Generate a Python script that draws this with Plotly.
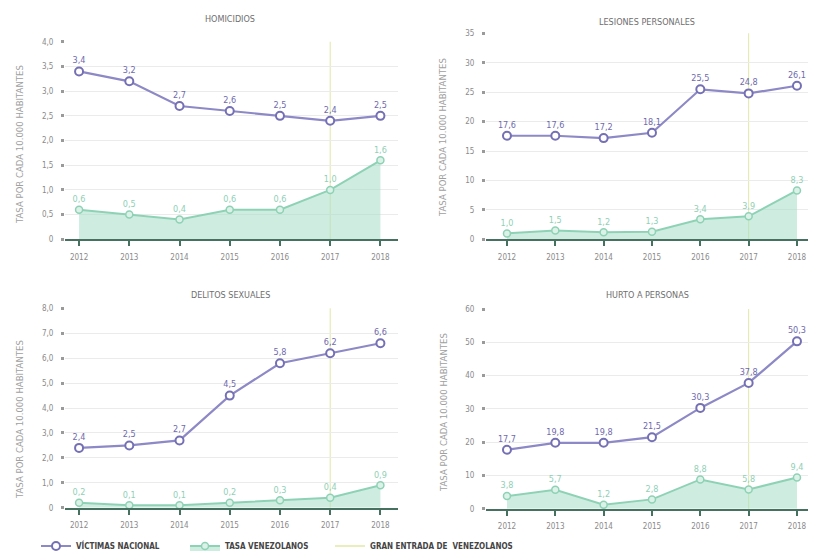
import plotly.graph_objects as go

years = ["2012", "2013", "2014", "2015", "2016", "2017", "2018"]
entrada_year = "2017"

titles = ["HOMICIDIOS", "LESIONES PERSONALES", "DELITOS SEXUALES", "HURTO A PERSONAS"]

hom_nac = [3.4, 3.2, 2.7, 2.6, 2.5, 2.4, 2.5]
hom_ven = [0.6, 0.5, 0.4, 0.6, 0.6, 1.0, 1.6]
les_nac = [17.6, 17.6, 17.2, 18.1, 25.5, 24.8, 26.1]
les_ven = [1.0, 1.5, 1.2, 1.3, 3.4, 3.9, 8.3]
del_nac = [2.4, 2.5, 2.7, 4.5, 5.8, 6.2, 6.6]
del_ven = [0.2, 0.1, 0.1, 0.2, 0.3, 0.4, 0.9]
hur_nac = [17.7, 19.8, 19.8, 21.5, 30.3, 37.8, 50.3]
hur_ven = [3.8, 5.7, 1.2, 2.8, 8.8, 5.8, 9.4]

hom_ticks = [0, 0.5, 1.0, 1.5, 2.0, 2.5, 3.0, 3.5, 4.0]
hom_ticktext = ["0", "0,5", "1,0", "1,5", "2,0", "2,5", "3,0", "3,5", "4,0"]
les_ticks = [0, 5, 10, 15, 20, 25, 30, 35]
les_ticktext = ["0", "5", "10", "15", "20", "25", "30", "35"]
del_ticks = [0, 1, 2, 3, 4, 5, 6, 7, 8]
del_ticktext = ["0", "1,0", "2,0", "3,0", "4,0", "5,0", "6,0", "7,0", "8,0"]
hur_ticks = [0, 10, 20, 30, 40, 50, 60]
hur_ticktext = ["0", "10", "20", "30", "40", "50", "60"]

y_title = "TASA POR CADA 10.000 HABITANTES"
legend_names = ["VÍCTIMAS NACIONAL", "TASA VENEZOLANOS", "GRAN ENTRADA DE  VENEZOLANOS"]

NAC_LINE = "#8d89c6"
NAC_MARK = "#7570b4"
NAC_TEXT = "#6f6aae"
VEN_LINE = "#8ed2b6"
VEN_FILL = "rgba(165,222,199,0.55)"
VEN_TEXT = "#8fd0b6"
AXIS = "#46705f"
GRID = "#ebebeb"
GRAY = "#8a8a8a"
VLINE = "#e3e7a6"
FONT = "Liberation Sans Narrow, DejaVu Sans Condensed, Arial Narrow, sans-serif"

# page body adds an 8px margin; figure is sized to fit inside the 816x559 window
OFF = 8
W, H = 816 - 2 * OFF, 559 - 2 * OFF


def px(x):
    return (x - OFF) / W


def py(y):
    return 1 - (y - OFF) / H


def fmt(v):
    return f"{v:.1f}".replace(".", ",")


panels = [
    dict(nac=hom_nac, ven=hom_ven, ticks=hom_ticks, tt=hom_ticktext,
         xd=[65, 398], yd=[239.3, 41.7], xr=[-0.28, 6.35]),
    dict(nac=les_nac, ven=les_ven, ticks=les_ticks, tt=les_ticktext,
         xd=[486, 808], yd=[239.3, 33.3], xr=[-0.434, 6.228]),
    dict(nac=del_nac, ven=del_ven, ticks=del_ticks, tt=del_ticktext,
         xd=[65, 398], yd=[507.7, 308.3], xr=[-0.28, 6.35]),
    dict(nac=hur_nac, ven=hur_ven, ticks=hur_ticks, tt=hur_ticktext,
         xd=[486, 808], yd=[508.7, 309.0], xr=[-0.434, 6.228]),
]
title_pos = [(230, 19), (647, 22), (230, 295), (647, 295)]
ytitle_pos = [(19, 145), (443, 137), (19, 420), (443, 412)]
legend_x = [36, 185, 330]
legend_y = 546

fig = go.Figure()
layout = dict(
    width=W, height=H,
    margin=dict(l=0, r=0, t=0, b=0, autoexpand=False),
    paper_bgcolor="white", plot_bgcolor="white",
    font=dict(family=FONT, color=GRAY, size=9),
    showlegend=True,
    shapes=[], annotations=[],
)

for i, p in enumerate(panels):
    n = "" if i == 0 else str(i + 1)
    xa, ya = "x" + n, "y" + n
    fig.add_trace(go.Scatter(
        x=years, y=p["ven"], xaxis=xa, yaxis=ya, mode="lines+markers+text",
        name=legend_names[1], showlegend=(i == 0), legend="legend2",
        line=dict(color=VEN_LINE, width=2), fill="tozeroy", fillcolor=VEN_FILL,
        marker=dict(symbol="circle", size=7, color="rgba(220,242,233,1)",
                    line=dict(color=VEN_LINE, width=1.5)),
        text=[fmt(v) for v in p["ven"]], textposition="top center",
        textfont=dict(color=VEN_TEXT, size=9, family=FONT), cliponaxis=False,
    ))
    fig.add_trace(go.Scatter(
        x=years, y=p["nac"], xaxis=xa, yaxis=ya, mode="lines+markers+text",
        name=legend_names[0], showlegend=(i == 0), legend="legend",
        line=dict(color=NAC_LINE, width=2.2),
        marker=dict(symbol="circle", size=8, color="white",
                    line=dict(color=NAC_MARK, width=2)),
        text=[fmt(v) for v in p["nac"]], textposition="top center",
        textfont=dict(color=NAC_TEXT, size=9, family=FONT), cliponaxis=False,
    ))
    layout["xaxis" + n] = dict(
        type="category", categoryorder="array", categoryarray=years,
        domain=[max(px(p["xd"][0]), 0), min(px(p["xd"][1]), 1.0)], range=p["xr"],
        anchor=ya, showgrid=False, showline=True, linecolor=AXIS, linewidth=2,
        ticks="outside", ticklen=5, tickwidth=2, tickcolor=AXIS,
        tickfont=dict(size=8, color=GRAY), ticklabelstandoff=4, zeroline=False,
        automargin=False,
    )
    layout["yaxis" + n] = dict(
        domain=[py(p["yd"][0]), py(p["yd"][1])],
        range=[0, p["ticks"][-1] * 1.0005], anchor=xa,
        tickvals=p["ticks"], ticktext=p["tt"], showgrid=True, gridcolor=GRID,
        gridwidth=1, zeroline=False, showline=False,
        ticks="outside", ticklen=3, tickwidth=3, tickcolor="#9a9a9a",
        tickfont=dict(size=8, color=GRAY), ticklabelstandoff=6,
        automargin=False,
    )
    layout["shapes"].append(dict(
        type="line", xref=xa, yref=ya + " domain",
        x0=years.index(entrada_year), x1=years.index(entrada_year), y0=0, y1=1,
        line=dict(color=VLINE, width=1), layer="below",
    ))
    tx, ty = title_pos[i]
    layout["annotations"].append(dict(
        text=titles[i], x=px(tx), y=py(ty), xref="paper", yref="paper",
        showarrow=False, font=dict(size=9, color="#6e6e6e", family=FONT),
        xanchor="center", yanchor="middle",
    ))
    yx, yy = ytitle_pos[i]
    layout["annotations"].append(dict(
        text=y_title, x=px(yx), y=py(yy), xref="paper", yref="paper",
        showarrow=False, textangle=-90, font=dict(size=9.5, color="#a0a0a0", family=FONT),
        xanchor="center", yanchor="middle",
    ))

fig.add_trace(go.Scatter(
    x=[None], y=[None], mode="lines", name=legend_names[2], legend="legend3",
    line=dict(color=VLINE, width=1.5), showlegend=True,
))

for k, lx in enumerate(legend_x):
    key = "legend" if k == 0 else "legend" + str(k + 1)
    layout[key] = dict(
        orientation="h", x=px(lx), y=py(legend_y), xanchor="left", yanchor="middle",
        font=dict(size=8, color="#444444", family=FONT, weight="bold"),
        bgcolor="rgba(0,0,0,0)",
    )

fig.update_layout(**layout)
fig.write_html("out.html")
